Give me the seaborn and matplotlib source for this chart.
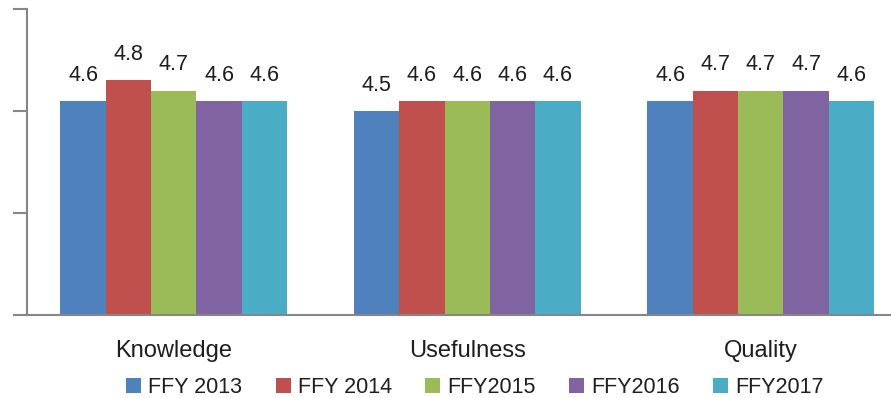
import matplotlib
matplotlib.use("Agg")
import matplotlib.pyplot as plt
import seaborn as sns
import pandas as pd

# Survey ratings by category and federal fiscal year
categories = ["Knowledge", "Usefulness", "Quality"]
years = ["FFY 2013", "FFY 2014", "FFY2015", "FFY2016", "FFY2017"]
ffy2013 = [4.6, 4.5, 4.6]
ffy2014 = [4.8, 4.6, 4.7]
ffy2015 = [4.7, 4.6, 4.7]
ffy2016 = [4.6, 4.6, 4.7]
ffy2017 = [4.6, 4.6, 4.6]

colors = ["#4F81BD", "#C0504D", "#9BBB59", "#8064A2", "#4BACC6"]

series = [ffy2013, ffy2014, ffy2015, ffy2016, ffy2017]
rows = []
for year, vals in zip(years, series):
    for cat, v in zip(categories, vals):
        rows.append({"Category": cat, "Year": year, "Score": v})
df = pd.DataFrame(rows)

sns.set_theme(style="white")
plt.rcParams["font.family"] = ["Liberation Sans Narrow", "Liberation Sans", "DejaVu Sans"]
text_color = "#1e1e1e"
axis_color = "#868686"

fig = plt.figure(figsize=(8.91, 3.98), dpi=100)
ax = fig.add_axes([27 / 891, 1 - 315 / 398, (907.5 - 27) / 891, (315 - 9) / 398])

sns.barplot(data=df, x="Category", y="Score", hue="Year", order=categories,
            hue_order=years, palette=colors, width=0.772, saturation=1,
            linewidth=0, ax=ax)

ax.set_xlim(-0.5, 2.5)
ax.set_ylim(2.5, 5.5)
ax.set_yticks([2.5, 3.5, 4.5, 5.5])
ax.set_yticklabels([])
ax.set_xlabel("")
ax.set_ylabel("")

for c in ax.containers:
    ax.bar_label(c, fmt="%.1f", padding=11, fontsize=15.5, color=text_color)

for side in ["top", "right"]:
    ax.spines[side].set_visible(False)
for side in ["left", "bottom"]:
    ax.spines[side].set_color(axis_color)
    ax.spines[side].set_linewidth(1.5)

ax.tick_params(axis="y", which="major", direction="out", length=10,
               width=1.5, color=axis_color, left=True)
ax.tick_params(axis="x", length=0, pad=18, labelsize=17, labelcolor=text_color)

sns.move_legend(ax, "center", bbox_to_anchor=(0.533, 0.027),
                bbox_transform=fig.transFigure, ncol=5, frameon=False,
                title=None, fontsize=15.5, handlelength=0.7, handleheight=0.7,
                handletextpad=0.33, columnspacing=1.55, labelcolor=text_color)

fig.savefig("out.png", dpi=100)
